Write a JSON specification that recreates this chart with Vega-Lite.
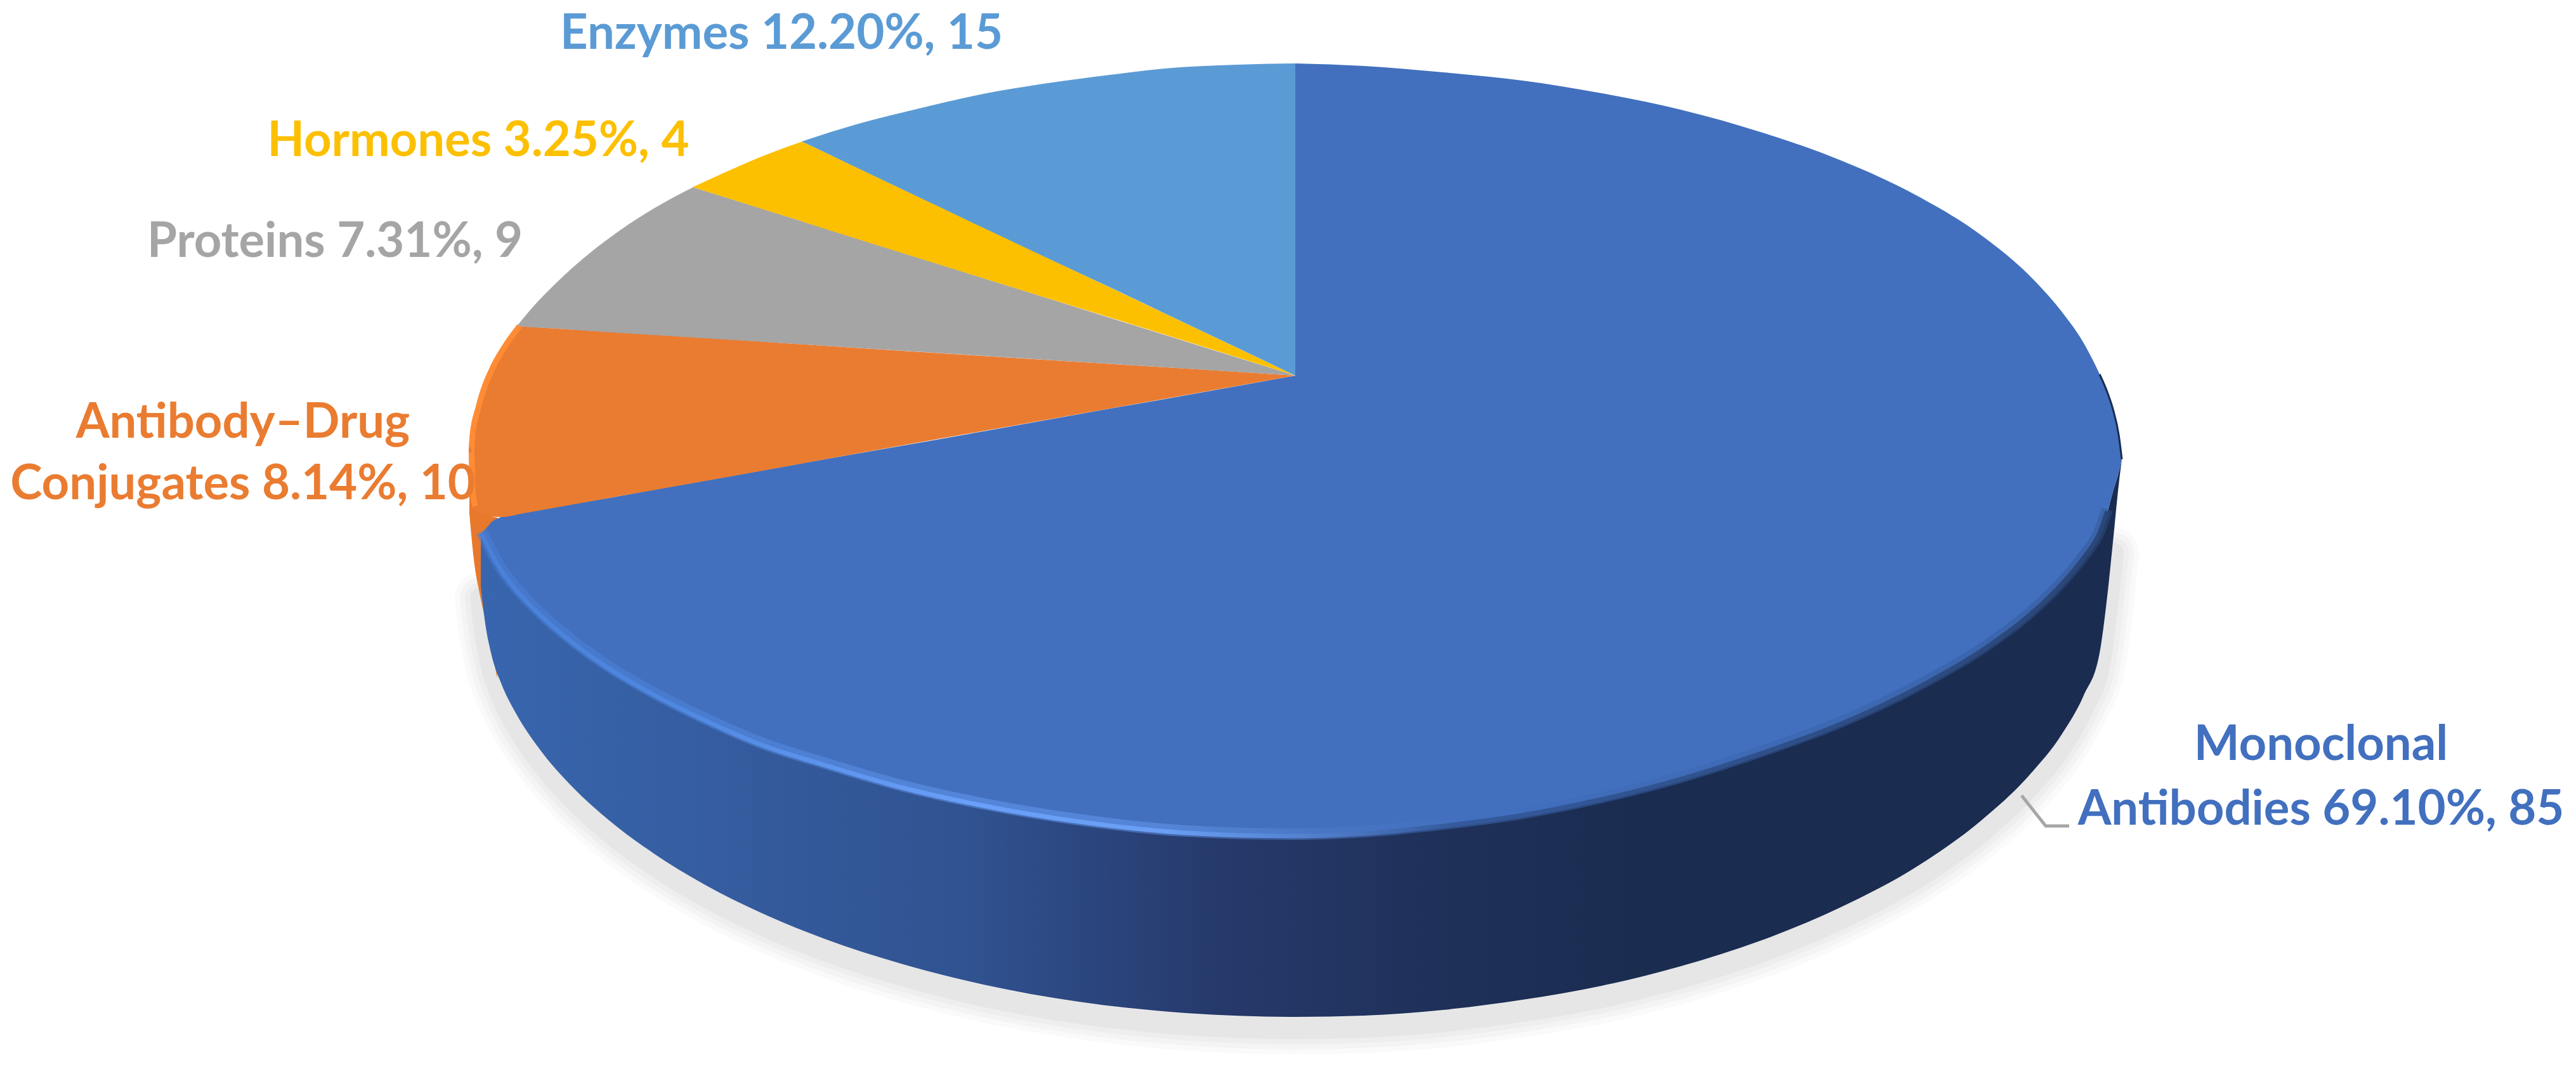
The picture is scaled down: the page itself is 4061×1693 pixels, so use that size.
{"$schema":"https://vega.github.io/schema/vega-lite/v6.json","width":4061,"height":1693,"autosize":"none","padding":0,"background":"white","config":{"view":{"stroke":null}},
"datasets":{
"wall":[{"x":758,"y":843,"y2":925},{"x":764,"y":853,"y2":976},{"x":775,"y":875,"y2":1033},{"x":790,"y":901,"y2":1077},{"x":812,"y":930,"y2":1122},{"x":850,"y":970,"y2":1180},{"x":900,"y":1013,"y2":1238},{"x":960,"y":1056,"y2":1293},{"x":1030,"y":1097,"y2":1345},{"x":1110,"y":1137,"y2":1394},{"x":1200,"y":1176,"y2":1439},{"x":1300,"y":1208,"y2":1480},{"x":1420,"y":1243,"y2":1519},{"x":1550,"y":1272,"y2":1552},{"x":1700,"y":1297,"y2":1579},{"x":1870,"y":1315,"y2":1597},{"x":2042,"y":1320,"y2":1603},{"x":2150,"y":1316,"y2":1601},{"x":2275,"y":1304,"y2":1592},{"x":2400,"y":1287,"y2":1576},{"x":2525,"y":1262,"y2":1554},{"x":2650,"y":1230,"y2":1523},{"x":2775,"y":1190,"y2":1483},{"x":2900,"y":1144,"y2":1431},{"x":3025,"y":1085,"y2":1364},{"x":3125,"y":1027,"y2":1292},{"x":3200,"y":971,"y2":1221},{"x":3250,"y":923,"y2":1158},{"x":3285,"y":881,"y2":1096},{"x":3310,"y":842,"y2":1029},{"x":3322,"y":808,"y2":940},{"x":3331,"y":775,"y2":854},{"x":3340,"y":745,"y2":765},{"x":3345,"y":724,"y2":724}],
"orangeWall":[{"x":740,"y":775,"y2":810},{"x":748,"y":800,"y2":890},{"x":755,"y":805,"y2":930},{"x":764,"y":810,"y2":972},{"x":784,"y":816,"y2":1069}],
"faces":[
{"category":"Monoclonal Antibodies","part":"a","x":758,"y":843,"y2":843},{"category":"Monoclonal Antibodies","part":"a","x":764,"y":836,"y2":853},{"category":"Monoclonal Antibodies","part":"a","x":775,"y":823,"y2":875},{"category":"Monoclonal Antibodies","part":"a","x":790,"y":815,"y2":901},{"category":"Monoclonal Antibodies","part":"a","x":812,"y":811,"y2":930},{"category":"Monoclonal Antibodies","part":"a","x":850,"y":804,"y2":970},{"category":"Monoclonal Antibodies","part":"a","x":900,"y":795,"y2":1013},{"category":"Monoclonal Antibodies","part":"a","x":960,"y":785,"y2":1056},{"category":"Monoclonal Antibodies","part":"a","x":1030,"y":772,"y2":1097},{"category":"Monoclonal Antibodies","part":"a","x":1110,"y":758,"y2":1137},{"category":"Monoclonal Antibodies","part":"a","x":1200,"y":742,"y2":1176},{"category":"Monoclonal Antibodies","part":"a","x":1300,"y":724,"y2":1208},{"category":"Monoclonal Antibodies","part":"a","x":1420,"y":703,"y2":1243},{"category":"Monoclonal Antibodies","part":"a","x":1550,"y":680,"y2":1272},{"category":"Monoclonal Antibodies","part":"a","x":1700,"y":653,"y2":1297},{"category":"Monoclonal Antibodies","part":"a","x":1870,"y":623,"y2":1315},{"category":"Monoclonal Antibodies","part":"a","x":2043,"y":592,"y2":1320},
{"category":"Monoclonal Antibodies","part":"b","x":2042,"y":100,"y2":1320},{"category":"Monoclonal Antibodies","part":"b","x":2150,"y":104,"y2":1316},{"category":"Monoclonal Antibodies","part":"b","x":2275,"y":114,"y2":1304},{"category":"Monoclonal Antibodies","part":"b","x":2400,"y":127,"y2":1287},{"category":"Monoclonal Antibodies","part":"b","x":2525,"y":147,"y2":1262},{"category":"Monoclonal Antibodies","part":"b","x":2650,"y":173,"y2":1230},{"category":"Monoclonal Antibodies","part":"b","x":2775,"y":208,"y2":1190},{"category":"Monoclonal Antibodies","part":"b","x":2900,"y":252,"y2":1144},{"category":"Monoclonal Antibodies","part":"b","x":3025,"y":310,"y2":1085},{"category":"Monoclonal Antibodies","part":"b","x":3125,"y":372,"y2":1027},{"category":"Monoclonal Antibodies","part":"b","x":3200,"y":435,"y2":971},{"category":"Monoclonal Antibodies","part":"b","x":3250,"y":491,"y2":923},{"category":"Monoclonal Antibodies","part":"b","x":3285,"y":541,"y2":881},{"category":"Monoclonal Antibodies","part":"b","x":3310,"y":590,"y2":842},{"category":"Monoclonal Antibodies","part":"b","x":3322,"y":618,"y2":808},{"category":"Monoclonal Antibodies","part":"b","x":3331,"y":645,"y2":775},{"category":"Monoclonal Antibodies","part":"b","x":3340,"y":685,"y2":745},{"category":"Monoclonal Antibodies","part":"b","x":3345,"y":724,"y2":724},
{"category":"Antibody–Drug Conjugates","part":"a","x":739,"y":709,"y2":712},{"category":"Antibody–Drug Conjugates","part":"a","x":741,"y":685,"y2":770},{"category":"Antibody–Drug Conjugates","part":"a","x":745,"y":662,"y2":798},{"category":"Antibody–Drug Conjugates","part":"a","x":750,"y":643,"y2":806},{"category":"Antibody–Drug Conjugates","part":"a","x":760,"y":611,"y2":810},{"category":"Antibody–Drug Conjugates","part":"a","x":774,"y":577,"y2":814},{"category":"Antibody–Drug Conjugates","part":"a","x":790,"y":549,"y2":815},{"category":"Antibody–Drug Conjugates","part":"a","x":816,"y":514,"y2":811},
{"category":"Antibody–Drug Conjugates","part":"b","x":815,"y":514,"y2":811},{"category":"Antibody–Drug Conjugates","part":"b","x":927,"y":521,"y2":791},{"category":"Antibody–Drug Conjugates","part":"b","x":1118,"y":533,"y2":757},{"category":"Antibody–Drug Conjugates","part":"b","x":1406,"y":552,"y2":705},{"category":"Antibody–Drug Conjugates","part":"b","x":1693,"y":570,"y2":654},{"category":"Antibody–Drug Conjugates","part":"b","x":1980,"y":588,"y2":603},{"category":"Antibody–Drug Conjugates","part":"b","x":2042,"y":592,"y2":592},
{"category":"Proteins","part":"a","x":815,"y":514,"y2":514},{"category":"Proteins","part":"a","x":840,"y":484,"y2":516},{"category":"Proteins","part":"a","x":879,"y":444,"y2":518},{"category":"Proteins","part":"a","x":920,"y":407,"y2":521},{"category":"Proteins","part":"a","x":965,"y":372,"y2":524},{"category":"Proteins","part":"a","x":1030,"y":329,"y2":528},{"category":"Proteins","part":"a","x":1093,"y":295,"y2":532},
{"category":"Proteins","part":"b","x":1092,"y":295,"y2":532},{"category":"Proteins","part":"b","x":1300,"y":360,"y2":545},{"category":"Proteins","part":"b","x":1600,"y":454,"y2":564},{"category":"Proteins","part":"b","x":1900,"y":548,"y2":583},{"category":"Proteins","part":"b","x":2042,"y":592,"y2":592},
{"category":"Hormones","part":"a","x":1092,"y":295,"y2":295},{"category":"Hormones","part":"a","x":1140,"y":273,"y2":310},{"category":"Hormones","part":"a","x":1200,"y":247,"y2":329},{"category":"Hormones","part":"a","x":1265,"y":223,"y2":349},
{"category":"Hormones","part":"b","x":1264,"y":223,"y2":349},{"category":"Hormones","part":"b","x":1500,"y":335,"y2":423},{"category":"Hormones","part":"b","x":1800,"y":477,"y2":516},{"category":"Hormones","part":"b","x":2042,"y":592,"y2":592},
{"category":"Enzymes","part":"a","x":1264,"y":223,"y2":223},{"category":"Enzymes","part":"a","x":1350,"y":196,"y2":264},{"category":"Enzymes","part":"a","x":1453,"y":170,"y2":313},{"category":"Enzymes","part":"a","x":1550,"y":148,"y2":359},{"category":"Enzymes","part":"a","x":1645,"y":132,"y2":404},{"category":"Enzymes","part":"a","x":1750,"y":118,"y2":453},{"category":"Enzymes","part":"a","x":1836,"y":108,"y2":494},{"category":"Enzymes","part":"a","x":1950,"y":102,"y2":548},{"category":"Enzymes","part":"a","x":2042,"y":100,"y2":592}],
"rim":[{"i":1,"x":815,"y":514},{"i":2,"x":790,"y":549},{"i":3,"x":774,"y":577},{"i":4,"x":750,"y":643},{"i":5,"x":741,"y":685},{"i":6,"x":739,"y":709},{"i":7,"x":741,"y":770},{"i":8,"x":745,"y":798}],
"darkEdge":[{"x":3310,"y":590},{"x":3322,"y":618},{"x":3331,"y":645},{"x":3340,"y":685},{"x":3345,"y":724}],
"leader":[{"i":1,"x":3187,"y":1254},{"i":2,"x":3225,"y":1302},{"i":3,"x":3262,"y":1302}],
"labels":[
{"category":"Enzymes","label":"Enzymes 12.20%, 15","x":1232,"y":77},
{"category":"Hormones","label":"Hormones 3.25%, 4","x":754,"y":246},
{"category":"Proteins","label":"Proteins 7.31%, 9","x":528,"y":405},
{"category":"Antibody–Drug Conjugates","label":"Antibody–Drug","x":383,"y":690},
{"category":"Antibody–Drug Conjugates","label":"Conjugates 8.14%, 10","x":383,"y":787},
{"category":"Monoclonal Antibodies","label":"Monoclonal","x":3659,"y":1198},
{"category":"Monoclonal Antibodies","label":"Antibodies 69.10%, 85","x":3659,"y":1300}]
},
"encoding":{
"x":{"field":"x","type":"quantitative","scale":{"domain":[0,4061],"nice":false,"zero":false},"axis":null},
"y":{"field":"y","type":"quantitative","scale":{"domain":[1693,0],"nice":false,"zero":false},"axis":null}
},
"layer":[
{"data":{"name":"wall"},"transform":[{"filter":"datum.x<=3331"}],"mark":{"type":"line","interpolate":"monotone","stroke":"#000","strokeOpacity":0.02,"strokeWidth":82,"strokeCap":"round","yOffset":18},"encoding":{"y":{"field":"y2","type":"quantitative"}}},
{"data":{"name":"wall"},"transform":[{"filter":"datum.x<=3331"}],"mark":{"type":"line","interpolate":"monotone","stroke":"#000","strokeOpacity":0.022,"strokeWidth":66,"strokeCap":"round","yOffset":18},"encoding":{"y":{"field":"y2","type":"quantitative"}}},
{"data":{"name":"wall"},"transform":[{"filter":"datum.x<=3331"}],"mark":{"type":"line","interpolate":"monotone","stroke":"#000","strokeOpacity":0.025,"strokeWidth":50,"strokeCap":"round","yOffset":18},"encoding":{"y":{"field":"y2","type":"quantitative"}}},
{"data":{"name":"wall"},"transform":[{"filter":"datum.x<=3331"}],"mark":{"type":"line","interpolate":"monotone","stroke":"#000","strokeOpacity":0.03,"strokeWidth":34,"strokeCap":"round","yOffset":18},"encoding":{"y":{"field":"y2","type":"quantitative"}}},
{"data":{"name":"orangeWall"},"mark":{"type":"area","color":"#e8782c","interpolate":"monotone"},"encoding":{"y2":{"field":"y2"}}},
{"data":{"name":"wall"},"mark":{"type":"area","interpolate":"monotone","color":{"gradient":"linear","x1":0,"y1":0,"x2":1,"y2":0,"stops":[{"offset":0,"color":"#3866ae"},{"offset":0.15,"color":"#355c9f"},{"offset":0.3,"color":"#305290"},{"offset":0.45,"color":"#26396b"},{"offset":0.6,"color":"#1e3057"},{"offset":0.7,"color":"#1a2c50"},{"offset":1,"color":"#1a2c50"}]}},"encoding":{"y2":{"field":"y2"}}},
{"data":{"name":"faces"},"mark":{"type":"area","interpolate":"monotone"},"encoding":{"y2":{"field":"y2"},"detail":{"field":"part"},"color":{"field":"category","type":"nominal","legend":null,"scale":{"domain":["Monoclonal Antibodies","Antibody–Drug Conjugates","Proteins","Hormones","Enzymes"],"range":["#4270bf","#ea7c31","#a5a5a5","#fcc000","#5b9bd5"]}}}},
{"data":{"name":"rim"},"mark":{"type":"line","stroke":"#ff8c35","strokeWidth":9,"xOffset":4,"interpolate":"monotone"},"encoding":{"order":{"field":"i"}}},
{"data":{"name":"darkEdge"},"mark":{"type":"line","stroke":"#1a2c50","strokeWidth":3,"interpolate":"monotone"}},
{"data":{"name":"wall"},"transform":[{"filter":"datum.x<=3322"}],"mark":{"type":"line","interpolate":"monotone","strokeWidth":18,"yOffset":-5,"opacity":0.45,"stroke":{"gradient":"linear","x1":0,"y1":0,"x2":1,"y2":0,"stops":[{"offset":0,"color":"#4a80d8"},{"offset":0.12,"color":"#4f88e0"},{"offset":0.3,"color":"#6a9ff8"},{"offset":0.42,"color":"#6a9ff5"},{"offset":0.52,"color":"#4f7cc8"},{"offset":0.6,"color":"#4270bf"},{"offset":1,"color":"#2f528f"}]}}},
{"data":{"name":"wall"},"transform":[{"filter":"datum.x<=3322"}],"mark":{"type":"line","interpolate":"monotone","strokeWidth":7,"yOffset":-2,"stroke":{"gradient":"linear","x1":0,"y1":0,"x2":1,"y2":0,"stops":[{"offset":0,"color":"#4a80d8"},{"offset":0.12,"color":"#4f88e0"},{"offset":0.3,"color":"#6a9ff8"},{"offset":0.42,"color":"#6a9ff5"},{"offset":0.52,"color":"#4f7cc8"},{"offset":0.6,"color":"#34599c"},{"offset":1,"color":"#2a4676"}]}}},
{"data":{"name":"leader"},"mark":{"type":"line","stroke":"#a6a6a6","strokeWidth":5},"encoding":{"order":{"field":"i"}}},
{"data":{"name":"labels"},"mark":{"type":"text","font":"Lato","fontWeight":"bold","fontSize":76,"align":"center","baseline":"alphabetic"},"encoding":{"text":{"field":"label"},"color":{"field":"category","type":"nominal","legend":null}}}
]}
